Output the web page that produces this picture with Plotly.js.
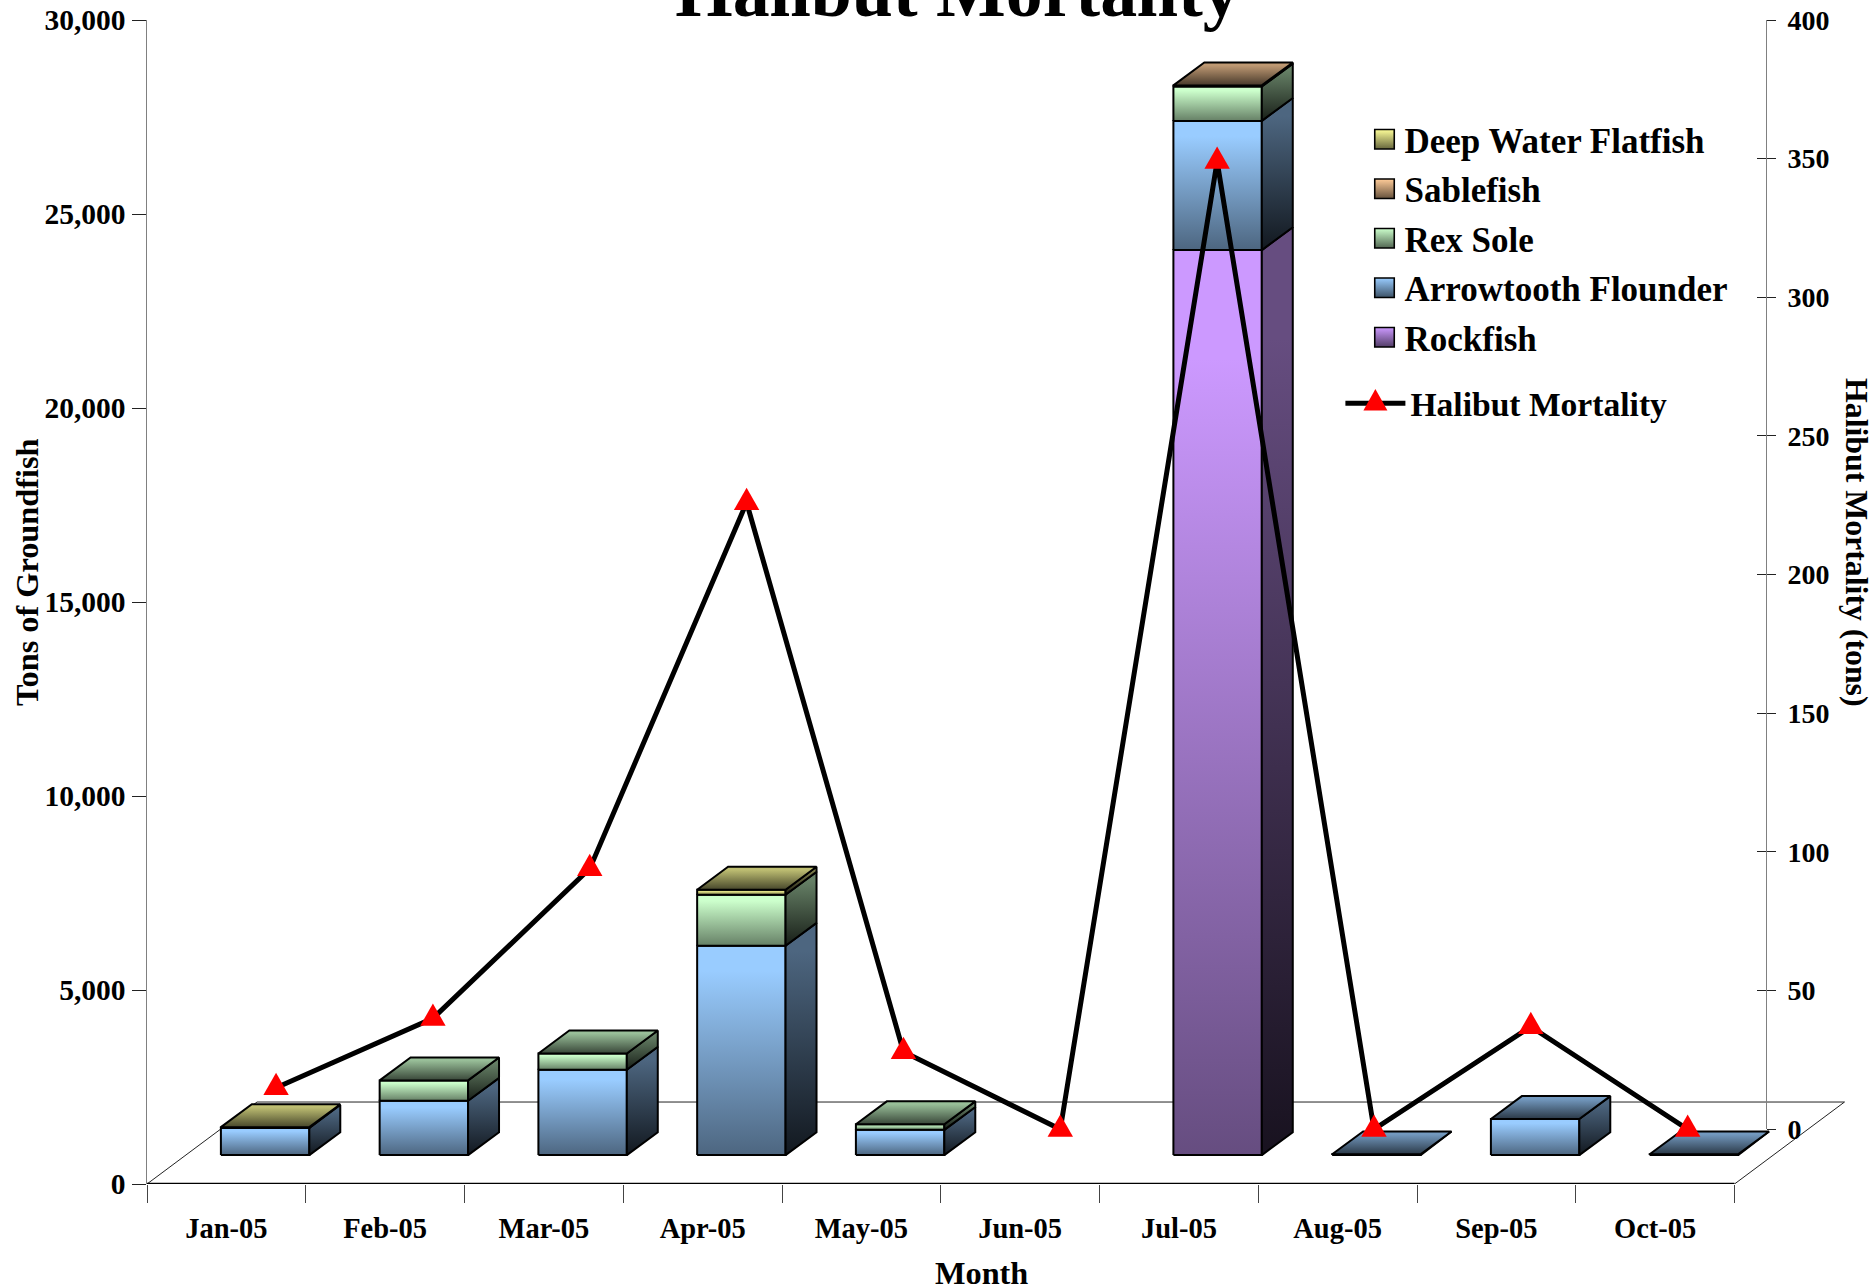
<!DOCTYPE html>
<html>
<head>
<meta charset="utf-8">
<script src="https://cdn.plot.ly/plotly-3.0.1.min.js"></script>
<style>html,body{margin:0;padding:0;background:#fff}#chart{width:1873px;height:1286px}</style>
</head>
<body>
<div id="chart"></div>
<script>
const months = ["Jan-05","Feb-05","Mar-05","Apr-05","May-05","Jun-05","Jul-05","Aug-05","Sep-05","Oct-05"];
const rockfish   = [0,0,0,0,0,0,23325,0,0,0];
const arrowtooth = [700,1400,2200,5395,650,0,3330,20,930,20];
const rexSole    = [0,525,420,1315,145,0,885,0,0,0];
const sablefish  = [0,0,0,0,0,0,30,0,0,0];
const deepWater  = [20,0,0,130,0,0,0,0,0,0];
const halibut    = [15,40,94,226,28,0,349,0,37,0];
const leftTicks  = [0,5000,10000,15000,20000,25000,30000];
const rightTicks = [0,50,100,150,200,250,300,350,400];

const FONT = "'Liberation Serif','Times New Roman',serif";
const stacks = [
  {name:"Rockfish",           vals:rockfish,   rgb:[204,153,255]},
  {name:"Arrowtooth Flounder",vals:arrowtooth, rgb:[153,204,255]},
  {name:"Rex Sole",           vals:rexSole,    rgb:[204,255,204]},
  {name:"Sablefish",          vals:sablefish,  rgb:[255,204,153]},
  {name:"Deep Water Flatfish",vals:deepWater,  rgb:[255,255,153]}
];
const shade = (c,f)=>`rgb(${c.map(v=>Math.round(v*f)).join(",")})`;

// projection constants of the fake 3D box
const BASE = 745, DY = 590, DX = 0.195, BAR_W = 0.557, BAR_OFF = 0.744 - 0.557/2;
const FLOOR_DX = 0.693, FLOOR_DY = 2113;
const LINE_X0 = 0.813, LINE_STEP = 0.988;

const traces = [];
const floorLine = {color:"#222",width:1};
function seg(x,y,line){traces.push({type:"scatter",mode:"lines",x,y,line,hoverinfo:"skip",showlegend:false,cliponaxis:false});}
seg([0,FLOOR_DX],[0,FLOOR_DY],floorLine);
seg([FLOOR_DX,10+FLOOR_DX],[FLOOR_DY,FLOOR_DY],floorLine);
seg([10+FLOOR_DX,10],[FLOOR_DY,0],floorLine);
seg([0,10],[0,0],{color:"#000",width:2.5});

function face(x,y,top,bottom){
  traces.push({type:"scatter",mode:"lines",x:x.concat(x[0]),y:y.concat(y[0]),fill:"toself",
    fillgradient:{type:"vertical",colorscale:[[0,bottom],[0.88,top],[1,top]]},
    line:{color:"#000",width:2},hoverinfo:"skip",showlegend:false,cliponaxis:false});
}
months.forEach((m,i)=>{
  const x0 = i + BAR_OFF, x1 = x0 + BAR_W;
  let y = BASE, last = null;
  stacks.forEach(s=>{
    const v = s.vals[i];
    if(!v) return;
    const y2 = y + v;
    face([x0,x1,x1,x0],[y,y,y2,y2],shade(s.rgb,1),shade(s.rgb,0.5));
    face([x1,x1+DX,x1+DX,x1],[y,y+DY,y2+DY,y2],shade(s.rgb,0.5),shade(s.rgb,0.12));
    y = y2; last = s;
  });
  if(last) face([x0,x1,x1+DX,x0+DX],[y,y,y+DY,y+DY],shade(last.rgb,0.75),shade(last.rgb,0.28));
});

// legend entries
[...stacks].reverse().forEach(s=>{
  traces.push({type:"scatter",mode:"markers",name:s.name,x:[null],y:[null],legendgroup:s.name,
    marker:{symbol:"square",size:16,color:shade(s.rgb,1),
      gradient:{type:"vertical",color:shade(s.rgb,0.4)},line:{color:"#000",width:1.3}}});
});

// halibut line on the right axis
traces.push({type:"scatter",mode:"lines+markers",name:"Halibut Mortality",legend:"legend2",
  x:months.map((m,i)=>LINE_X0+LINE_STEP*i),y:halibut,yaxis:"y2",cliponaxis:false,
  line:{color:"#000",width:5},
  marker:{symbol:"triangle-up",size:22,color:"#ff0000",line:{width:0}},hoverinfo:"skip"});
// carries the inward half of the right axis ticks
traces.push({type:"scatter",mode:"lines",x:[null],y:[null],yaxis:"y3",showlegend:false,hoverinfo:"skip"});
// carries the centred month labels
traces.push({type:"scatter",mode:"lines",x:[null],y:[null],xaxis:"x2",showlegend:false,hoverinfo:"skip"});

const tickFont = {family:FONT,size:28,color:"#000",weight:700};
const leftFont = {family:FONT,size:29.5,color:"#000",weight:700};
const monthFont = {family:FONT,size:28.5,color:"#000",weight:700};
const legendFont = {family:FONT,size:35,color:"#000",weight:700};
const legend2Font = {family:FONT,size:33.6,color:"#000",weight:700};
const titleFont = {family:FONT,size:32.3,color:"#000",weight:700};
const rightTitleFont = {family:FONT,size:31.8,color:"#000",weight:700};
const xRange = [0,1703/158.75];
const P = v=>(v-147)/1703;
const Q = v=>(1184-v)/1164;

const layout = {
  width:1873,height:1286,paper_bgcolor:"#fff",plot_bgcolor:"rgba(0,0,0,0)",
  margin:{l:147,r:23,t:20,b:102,pad:0},
  title:{text:"Halibut Mortality",font:{family:FONT,size:73.9,color:"#000",weight:700},
    x:957.5/1873,xanchor:"center",y:1-16/1286,yanchor:"bottom"},
  showlegend:true,
  legend:{x:P(1364.5),xanchor:"left",y:Q(110),yanchor:"top",font:legendFont,bgcolor:"rgba(0,0,0,0)",
    tracegroupgap:1,traceorder:"grouped"},
  legend2:{x:P(1340.4),xanchor:"left",y:Q(375),yanchor:"top",font:legend2Font,bgcolor:"rgba(0,0,0,0)",itemwidth:60},
  xaxis:{range:xRange,tickmode:"array",tickvals:[0,1,2,3,4,5,6,7,8,9,10],ticktext:Array(11).fill(""),
    ticks:"outside",ticklen:18,tickcolor:"#444",tickwidth:1,showgrid:false,zeroline:false,showline:false,fixedrange:true},
  xaxis2:{range:xRange,overlaying:"x",anchor:"y",side:"bottom",tickmode:"array",
    tickvals:months.map((m,i)=>i+0.5),ticktext:months,ticks:"outside",ticklen:19,tickcolor:"rgba(0,0,0,0)",
    tickfont:monthFont,showgrid:false,zeroline:false,showline:false,fixedrange:true},
  yaxis:{range:[0,30000],tickmode:"array",tickvals:leftTicks,tickformat:",d",ticks:"outside",ticklen:14,
    tickcolor:"#222",tickwidth:1,tickfont:leftFont,showgrid:false,zeroline:false,showline:true,
    linecolor:"#808080",linewidth:1.5,fixedrange:true,automargin:false},
  yaxis2:{domain:[Q(1129.3),1],range:[0,400],anchor:"free",position:P(1765.5),side:"right",tickmode:"array",
    tickvals:rightTicks,ticks:"outside",ticklen:9,tickcolor:"#222",tickwidth:1,tickfont:tickFont,
    ticklabelstandoff:6,showgrid:false,zeroline:false,showline:true,linecolor:"#808080",linewidth:1.5,fixedrange:true},
  yaxis3:{overlaying:"y2",range:[0,400],anchor:"free",position:P(1765.5),side:"right",tickmode:"array",
    tickvals:rightTicks,ticks:"inside",ticklen:9,tickcolor:"#222",tickwidth:1,showticklabels:false,
    showgrid:false,zeroline:false,showline:false,fixedrange:true},
  annotations:[
    {text:"Tons of Groundfish",xref:"paper",yref:"paper",x:P(27),y:Q(572),textangle:-90,showarrow:false,font:titleFont,xanchor:"center",yanchor:"middle"},
    {text:"Halibut Mortality (tons)",xref:"paper",yref:"paper",x:P(1857),y:Q(542),textangle:90,showarrow:false,font:rightTitleFont,xanchor:"center",yanchor:"middle"},
    {text:"Month",xref:"paper",yref:"paper",x:P(981),y:Q(1273),showarrow:false,font:titleFont,xanchor:"center",yanchor:"middle"}
  ]
};
// Plotly caps legend markers and draws a flat triangle: stretch both to the reference's proportions
function reshape(gd){
  const stretch = (el,sx,sy)=>el.setAttribute("transform",(el.getAttribute("transform")||"")+` scale(${sx},${sy})`);
  gd.querySelectorAll(".scatterlayer .points path.point").forEach(p=>stretch(p,1,1.35));
  gd.querySelectorAll(".legendpoints path").forEach(p=>{
    const d = p.getAttribute("d")||"";
    if(!p.getAttribute("transform")) return;
    if(d.includes("L0,-")) stretch(p,1.3,1.8); else stretch(p,1.22,1.22);
  });
}
Plotly.newPlot("chart",traces,layout,{displayModeBar:false,staticPlot:true}).then(reshape);
</script>
</body>
</html>
